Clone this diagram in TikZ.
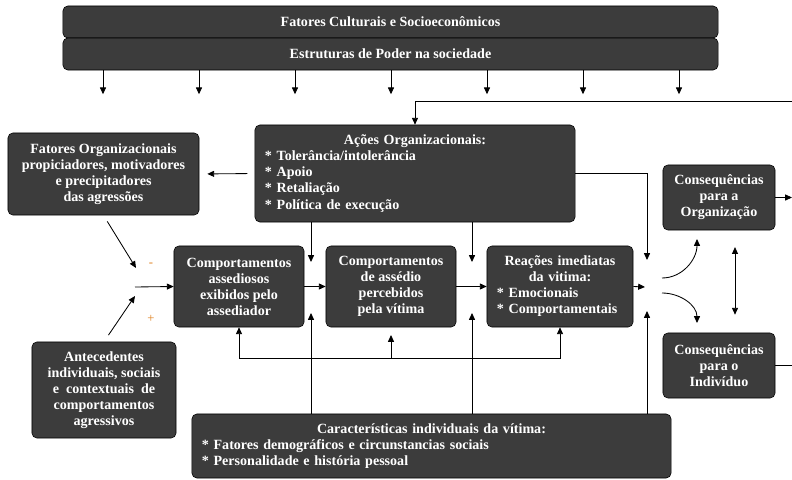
\documentclass[tikz,border=0pt]{standalone}
\usepackage{fontspec}
\setmainfont{Liberation Serif}
\usetikzlibrary{arrows.meta,positioning,calc}
\definecolor{boxgray}{RGB}{60,60,60}
\definecolor{signor}{RGB}{222,128,30}
\tikzset{
  bx/.style={draw=black, fill=boxgray, rounded corners=3.5pt, text=white,
    font=\bfseries\fontsize{10}{11.4}\selectfont, inner sep=0pt, align=center},
  midbx/.style={bx, minimum width=3.25cm, minimum height=2.025cm},
  conbx/.style={bx, minimum width=2.8cm, minimum height=1.625cm},
  barbx/.style={bx, minimum width=16.375cm, minimum height=0.8cm},
  arr/.style={-{Triangle[length=1.7mm,width=1.5mm]}, line width=0.6pt},
  dbl/.style={{Triangle[length=1.7mm,width=1.5mm]}-{Triangle[length=1.7mm,width=1.5mm]}, line width=0.6pt},
  sgn/.style={font=\fontsize{9}{9}\selectfont, text=signor, inner sep=1pt},
}

\begin{document}
\begin{tikzpicture}[x=0.025cm, y=-0.025cm]
  \useasboundingbox (0,0) rectangle (792,480);
  % top bars
  \node[barbx] (cult) at (390.5,22) {Fatores Culturais e Socioeconômicos};
  \node[barbx] (poder) at (390.5,54) {Estruturas de Poder na sociedade};
  \foreach \x in {103,199,295,391,487,583,679}
    \draw[arr] (\x,0 |- poder.south) -- ++(0,24);

  \node[bx, minimum width=8cm, minimum height=2.425cm, text width=7.5cm, align=left] (acoes) at (415,173.5)
    {{\centering Ações Organizacionais:\par}* Tolerância/intolerância\\{}* Apoio\\{}* Retaliação\\{}* Política de execução};
  \node[bx, minimum width=4.775cm, minimum height=2.05cm] (fatorg) at (103.5,174)
    {Fatores Organizacionais\\propiciadores, motivadores\\e precipitadores\\das agressões};
  \node[bx, minimum width=3.6cm, minimum height=2.4cm] (antec) at (104,390)
    {Antecedentes\\individuais, sociais\\e\ \ contextuais\ \ de\\comportamentos\\agressivos};

  % main chain
  \node[midbx] (assed) at (239,286.5) {Comportamentos\\assediosos\\exibidos pelo\\assediador};
  \node[midbx] (perceb) at (391,286.5) {Comportamentos\\de assédio\\percebidos\\pela vítima};
  \node[bx, minimum width=3.65cm, minimum height=2.025cm, text width=3.15cm, align=left] (reac) at (560,286.5)
    {{\centering Reações imediatas\\da vitima:\par}* Emocionais\\{}* Comportamentais};
  \node[bx, minimum width=11.975cm, minimum height=1.6cm, text width=11.475cm, align=left] (caract) at (431.5,446)
    {{\centering Características individuais da vítima:\par}* Fatores demográficos e circunstancias sociais\\{}* Personalidade e história pessoal};
  \node[conbx] (conorg) at (719,197.5) {Consequências\\para a\\Organização};
  \node[conbx] (conind) at (719,365.5) {Consequências\\para o\\Indivíduo};

  \node[sgn] (minus) at (151,265) {-};
  \node[sgn] (plus) at (151,319) {+};

  \coordinate (jneg) at (136,268);
  \coordinate (jpos) at (135,296);
  \coordinate (jin) at (135,287);
  \coordinate (jtop) at (647,260);
  \coordinate (jbot) at (647,311);
  \coordinate (jout) at (645,287);
  \coordinate (fb) at (391,358);
  \coordinate (fbmid) at (391,335);
  \coordinate (redge) at (792,101);
  \coordinate (cup) at (662,278);
  \coordinate (cupend) at (697,239);
  \coordinate (cdn) at (662,293);
  \coordinate (cdnend) at (697,323);

  \draw[arr] (redge) -| (acoes.north);
  \draw[arr, shorten <=0.18cm, shorten >=0.2cm] (acoes.west) -- (fatorg.east);
  \draw[arr, shorten <=0.18cm] (fatorg.south) -- (jneg);
  \draw[arr, shorten <=0.2cm] (antec.north) -- (jpos);
  \draw[arr] (jin) -- (assed.west);
  \draw[arr] (assed.east) -- (perceb.west);
  \draw[arr] (perceb.east) -- (reac.west);
  \draw[arr] (reac.east) -- (jout);
  \draw[arr] (acoes.east) -| (jtop);
  \draw[arr] (caract.north -| jbot) -- (jbot);
  \foreach \x in {311,472} {
    \draw[arr] (\x,0 |- acoes.south) -- (\x,262);
    \draw[arr] (\x,0 |- caract.north) -- (\x,313);
  }
  % feedback
  \draw[arr] (fb) -| (assed.south);
  \draw[arr] (fb) -| (reac.south);
  \draw[arr] (fb) -- (fbmid);
  % consequences
  \draw[arr] (cup) to[out=0, in=-90] (cupend);
  \draw[arr] (cdn) to[out=0, in=90] (cdnend);
  \draw[dbl, shorten <=0.42cm, shorten >=0.45cm] (conorg.south -| 735,0) -- (conind.north -| 735,0);
  \draw[arr] (conorg.east) -- (conorg.east -| redge);
  \draw (conind.east) -- (conind.east -| redge);
\end{tikzpicture}
\end{document}
